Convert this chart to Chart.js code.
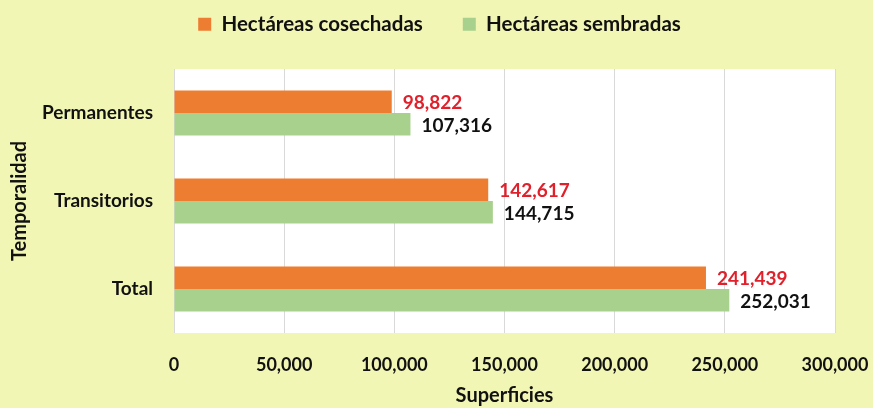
<!DOCTYPE html>
<html>
<head>
<meta charset="utf-8">
<script src="https://cdn.jsdelivr.net/npm/chart.js@4.4.1/dist/chart.umd.min.js"></script>
<style>
  body { margin: 0; background: #F2F6B4; }
  #wrap { width: 873px; height: 408px; }
</style>
</head>
<body>
<div id="wrap"><canvas id="grafico"></canvas></div>
<script>
// datos del gráfico
var categorias = ['Permanentes', 'Transitorios', 'Total'];
var cosechadas = [98822, 142617, 241439];
var sembradas = [107316, 144715, 252031];
var ticksX = [0, 50000, 100000, 150000, 200000, 250000, 300000];

var fuente = 'Lato, "Open Sans", sans-serif';

// fondo blanco del área de trazado
var fondoArea = {
    id: 'fondoArea',
    beforeDraw: function(chart) {
        var a = chart.chartArea;
        var ctx = chart.ctx;
        ctx.save();
        ctx.fillStyle = '#FFFFFF';
        ctx.fillRect(a.left, a.top, a.right - a.left, a.bottom - a.top);
        ctx.restore();
    }
};

// leyenda: alto fijo y posición ajustada
var ajusteLeyenda = {
    id: 'ajusteLeyenda',
    afterInit: function(chart) {
        var lg = chart.legend;
        var fitOrig = lg.fit;
        lg.fit = function() {
            fitOrig.call(this);
            this.height = 69;
        };
    },
    afterLayout: function(chart) {
        chart.legend.top = -26;
        chart.legend.left += 22;
        chart.legend.right += 22;
    }
};

// etiquetas de valores al final de cada barra
var etiquetas = {
    id: 'etiquetas',
    afterDatasetsDraw: function(chart) {
        var ctx = chart.ctx;
        ctx.save();
        ctx.font = 'bold 19px ' + fuente;
        ctx.textBaseline = 'middle';
        ctx.textAlign = 'left';
        chart.data.datasets.forEach(function(ds, i) {
            var meta = chart.getDatasetMeta(i);
            ctx.fillStyle = i === 0 ? '#E0202B' : '#111111';
            meta.data.forEach(function(bar, j) {
                ctx.fillText(ds.data[j].toLocaleString('en-US'), bar.x + 11, bar.y + 1.5);
            });
        });
        ctx.restore();
    }
};

var ctx = document.getElementById('grafico').getContext('2d');
var grafico = new Chart(ctx, {
    type: 'bar',
    data: {
        labels: categorias,
        datasets: [{
            label: 'Hectáreas cosechadas',
            data: cosechadas,
            backgroundColor: '#ED7D31'
        }, {
            label: 'Hectáreas sembradas',
            data: sembradas,
            backgroundColor: '#A9D18E'
        }]
    },
    options: {
        indexAxis: 'y',
        responsive: true,
        maintainAspectRatio: false,
        animation: false,
        categoryPercentage: 0.51,
        barPercentage: 1,
        layout: { padding: { left: 0, right: 38, top: 0, bottom: 0 } },
        plugins: {
            legend: {
                position: 'top',
                labels: {
                    boxWidth: 13,
                    boxHeight: 13,
                    padding: 40,
                    color: '#111111',
                    font: { family: fuente, size: 20.5, weight: 'bold' }
                }
            },
            tooltip: { enabled: false }
        },
        scales: {
            x: {
                min: 0,
                max: 300000,
                afterBuildTicks: function(axis) {
                    axis.ticks = ticksX.map(function(v) { return { value: v }; });
                },
                afterFit: function(axis) {
                    axis.height = 75;
                    axis.paddingLeft = 0;
                    axis.paddingRight = 0;
                },
                grid: { color: '#D9D9D9', drawTicks: false },
                border: { display: false },
                ticks: {
                    padding: 21,
                    color: '#111111',
                    maxRotation: 0,
                    font: { family: fuente, size: 18, weight: 'bold' },
                    callback: function(v) { return v.toLocaleString('en-US'); }
                },
                title: {
                    display: true,
                    text: 'Superficies',
                    color: '#111111',
                    padding: { top: 0, bottom: 0 },
                    font: { family: fuente, size: 20, weight: 'bold' }
                }
            },
            y: {
                afterFit: function(axis) {
                    axis.width = 174;
                    axis.paddingTop = 0;
                    axis.paddingBottom = 0;
                },
                grid: { display: false, drawTicks: false },
                border: { display: false },
                ticks: {
                    padding: 21,
                    color: '#111111',
                    font: { family: fuente, size: 19, weight: 'bold' }
                },
                title: {
                    display: true,
                    text: 'Temporalidad',
                    color: '#111111',
                    padding: { top: 8, bottom: 0 },
                    font: { family: fuente, size: 20, weight: 'bold' }
                }
            }
        }
    },
    plugins: [fondoArea, ajusteLeyenda, etiquetas]
});
</script>
</body>
</html>
